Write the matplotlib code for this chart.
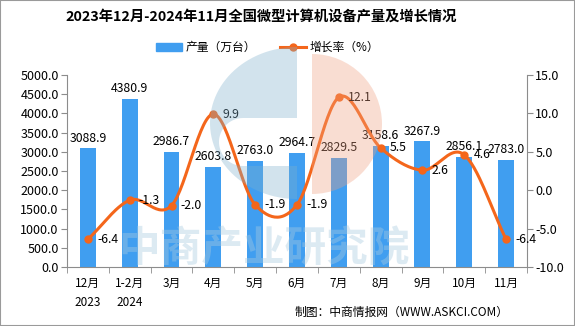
import numpy as np
import matplotlib.pyplot as plt
from matplotlib.patches import Wedge, Rectangle, Patch, Polygon
from matplotlib.lines import Line2D

plt.rcParams['font.family'] = ['Noto Sans CJK SC', 'DejaVu Sans']

# ── data ──────────────────────────────────────────────
months = ['12月\n2023', '1-2月\n2024', '3月', '4月', '5月', '6月',
          '7月', '8月', '9月', '10月', '11月']
output = [3088.9, 4380.9, 2986.7, 2603.8, 2763.0, 2964.7,
          2829.5, 3158.6, 3267.9, 2856.1, 2783.0]
growth = [-6.4, -1.3, -2.0, 9.9, -1.9, -1.9, 12.1, 5.5, 2.6, 4.6, -6.4]

BLUE = '#409EF0'
ORANGE = '#F4661B'
GRAY = '#8C8C8C'


def catmull_rom(xs, ys, n=30):
    # smooth curve through the points (display only)
    xs = np.asarray(xs, float)
    ys = np.asarray(ys, float)
    px = np.concatenate([[2 * xs[0] - xs[1]], xs, [2 * xs[-1] - xs[-2]]])
    py = np.concatenate([[2 * ys[0] - ys[1]], ys, [2 * ys[-1] - ys[-2]]])
    outx, outy = [], []
    for i in range(1, len(px) - 2):
        t = np.linspace(0, 1, n, endpoint=False)
        for p, out in ((px, outx), (py, outy)):
            p0, p1, p2, p3 = p[i - 1], p[i], p[i + 1], p[i + 2]
            out.extend(0.5 * (2 * p1 + (-p0 + p2) * t
                              + (2 * p0 - 5 * p1 + 4 * p2 - p3) * t ** 2
                              + (-p0 + 3 * p1 - 3 * p2 + p3) * t ** 3))
    outx.append(xs[-1])
    outy.append(ys[-1])
    return np.array(outx), np.array(outy)


fig = plt.figure(figsize=(5.75, 3.26), dpi=100)

ax = fig.add_axes([0.1165, 0.181, 0.80, 0.589])
x = np.arange(len(months))
ax.bar(x, output, width=0.38, color=BLUE, zorder=2)
ax.set_ylim(0, 5000)
ax.set_xlim(-0.5, len(months) - 0.5)
ax.set_yticks(np.arange(0, 5001, 500))
ax.set_yticklabels([f'{v:.1f}' for v in np.arange(0, 5001, 500)], fontsize=9)
ax.set_xticks(x)
ax.set_xticklabels(months, fontsize=8.5, linespacing=1.6)
ax.set_xticks(np.arange(-0.5, len(months), 1), minor=True)
ax.tick_params(axis='x', which='major', length=0, pad=7)
ax.tick_params(axis='x', which='minor', length=4, color=GRAY)
ax.tick_params(axis='y', length=4, color=GRAY, pad=2)
for s in ['top', 'right']:
    ax.spines[s].set_visible(False)
for s in ['left', 'bottom']:
    ax.spines[s].set_color(GRAY)
ax.patch.set_alpha(0)

for xi, v in zip(x, output):
    ax.text(xi, v + 100, f'{v:.1f}', ha='center', va='bottom', fontsize=8.8)

ax2 = ax.twinx()
ax2.set_ylim(-10, 15)
ax2.set_yticks(np.arange(-10, 16, 5))
ax2.set_yticklabels([f'{v:.1f}' for v in np.arange(-10, 16, 5)], fontsize=9)
ax2.tick_params(axis='y', length=4, color=GRAY, pad=2)
for s in ['top', 'left', 'bottom']:
    ax2.spines[s].set_visible(False)
ax2.spines['right'].set_color(GRAY)

sx, sy = catmull_rom(x, growth)
ax2.plot(sx, sy, color=ORANGE, lw=2.2, zorder=3)
ax2.plot(x, growth, 'o', color=ORANGE, ms=5, zorder=4)
for xi, v in zip(x, growth):
    ax2.text(xi + 0.22, v, f'{v:.1f}', ha='left', va='center', fontsize=8.8)

# legend
handles = [Patch(color=BLUE),
           Line2D([], [], color=ORANGE, lw=2.2, marker='o', ms=5)]
fig.legend(handles, ['产量（万台）', '增长率（%）'], loc='center',
           bbox_to_anchor=(0.465, 0.855), ncol=2, frameon=False,
           fontsize=8.5, handlelength=2.2, columnspacing=2.0,
           handletextpad=0.3)

fig.text(0.454, 0.945, '2023年12月-2024年11月全国微型计算机设备产量及增长情况',
         ha='center', va='center', fontsize=10.3, fontweight='bold')
fig.text(0.885, 0.043, '制图：中商情报网（WWW.ASKCI.COM）',
         ha='right', va='center', fontsize=8.5)

# watermark overlay
wm = fig.add_axes([0, 0, 1, 1], zorder=10)
wm.set_xlim(0, 575)
wm.set_ylim(326, 0)
wm.set_aspect('equal')
wm.axis('off')
cx, cy, rx, ry = 297, 123, 87, 76
th = np.linspace(np.pi / 2, 3 * np.pi / 2, 60)
outer = np.c_[cx + rx * np.cos(th), cy - ry * np.sin(th)]
hc, hr = 243, 24
th2 = np.linspace(3 * np.pi / 2, np.pi / 2, 30)
hole = np.c_[hc + hr * np.cos(th2), 142 - hr * np.sin(th2)]
c_shape = np.vstack([outer, [[cx, 166]], hole, [[cx, 118]]])
wm.add_patch(Polygon(c_shape, closed=True, color='#7FB0CC', alpha=0.35, lw=0))
wm.add_patch(Wedge((312, 124), 70, -90, 90, color='#F0A080',
                   alpha=0.35, lw=0))
wm.text(264, 250, '中商产业研究院', ha='center', va='center',
        fontsize=30, fontweight='bold', color='#A9CBE0', alpha=0.4)

fig.add_artist(Rectangle((0, 0), 1, 1, transform=fig.transFigure,
                         fill=False, ec='#9A9A9A', lw=1.5))

fig.savefig('out.png', dpi=100)
